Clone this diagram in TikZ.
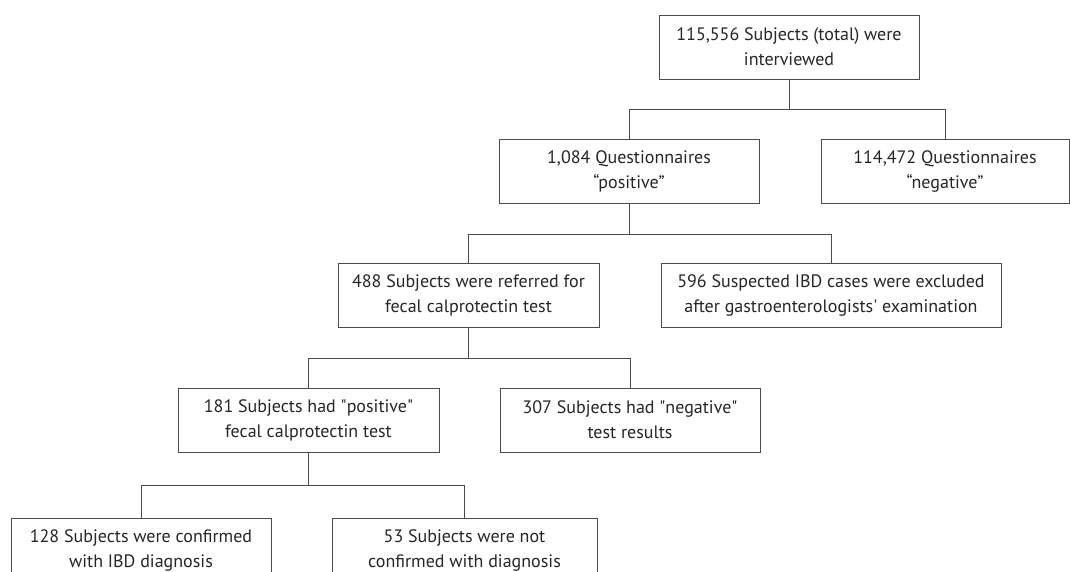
\documentclass[tikz,border=0pt]{standalone}
\usepackage{fontspec}
\setmainfont{PT Sans}
\usepackage{tikz}

\begin{document}
\begin{tikzpicture}[x=1pt, y=1pt]
      \useasboundingbox (0,0) rectangle (1070,-571);
      {\tikzstyle{every node}=[draw=black!70, line width=0.8pt, text=black!85,
          align=center, minimum height=64pt, inner sep=0pt,
          font=\fontsize{18}{25}\selectfont]
        \node [minimum width=260pt] (total) at (789,-47)
          {115,556 Subjects (total) were\\interviewed};

        \node [minimum width=260pt] (qpos) at (629,-171.5)
          {1,084 Questionnaires\\“positive”};
        \node [minimum width=248pt] (qneg) at (945,-171.5)
          {114,472 Questionnaires\\“negative”};

        \node [minimum width=261pt] (referred) at (468.5,-295.5)
          {488 Subjects were referred for\\fecal calprotectin test};
        \node [minimum width=340pt] (excluded) at (831,-295.5)
          {596 Suspected IBD cases were excluded\\after gastroenterologists\textquotesingle{} examination};

        \node [minimum width=261pt] (fcpos) at (308.5,-420)
          {181 Subjects had \textquotedbl positive\textquotedbl\\fecal calprotectin test};
        \node [minimum width=260pt] (fcneg) at (630,-420)
          {307 Subjects had \textquotedbl negative\textquotedbl\\test results};

        \node [minimum width=260pt] (ibd) at (141,-550)
          {128 Subjects were confirmed\\with IBD diagnosis};
        \node [minimum width=265pt] (noibd) at (464.5,-550)
          {53 Subjects were not\\confirmed with diagnosis};
      }

      \draw [black!70, line width=0.8pt]
        (total.south) -- ++(0,-30) -| (qpos.north)
        (total.south) ++(0,-30) -| (qneg.north)
        (qpos.south) -- ++(0,-30) -| (referred.north)
        (qpos.south) ++(0,-30) -| (excluded.north)
        (referred.south) -- ++(0,-30) -| (fcpos.north)
        (referred.south) ++(0,-30) -| (fcneg.north)
        (fcpos.south) -- ++(0,-33) -| (ibd.north)
        (fcpos.south) ++(0,-33) -| (noibd.north);
    \end{tikzpicture}
\end{document}
